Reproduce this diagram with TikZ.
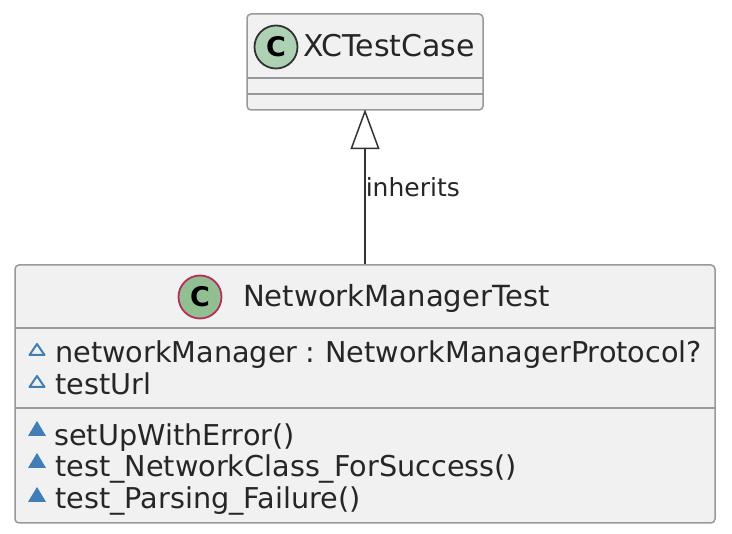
\documentclass[tikz,border=0pt]{standalone}
\usepackage{fontspec}
\setmainfont{DejaVu Sans}
\usetikzlibrary{arrows.meta}
\definecolor{boxfill}{HTML}{F1F1F1}
\definecolor{boxline}{HTML}{999999}
\definecolor{inkline}{HTML}{333333}
\definecolor{spotbase}{HTML}{ADD1B2}
\definecolor{spotchild}{HTML}{92BF92}
\definecolor{spotedge}{HTML}{B4305A}
\definecolor{markblue}{HTML}{3F7FB5}
\begin{document}
\begin{tikzpicture}[
    x=1pt, y=-1pt,
    classbox/.style={rectangle, draw=boxline, fill=boxfill, line width=1.5pt, rounded corners=4pt, inner sep=0pt},
    spot/.style={circle, draw=inkline, fill=spotbase, line width=1.8pt, minimum size=43pt, inner sep=0pt, font=\fontsize{27}{27}\selectfont\bfseries},
    title/.style={anchor=base west, inner sep=0pt, text=black!85, font=\fontsize{29.1}{30}\selectfont},
    member/.style={anchor=base west, inner sep=0pt, text=black!85, font=\fontsize{28.7}{30}\selectfont},
    edgelabel/.style={anchor=base west, inner sep=0pt, text=black!85, font=\fontsize{25}{28}\selectfont},
    inherit/.style={draw=inkline, line width=1.5pt, shorten >=-1.5pt, -{Triangle[open, length=40pt, width=29pt, line width=1.5pt]}}
  ]
    \useasboundingbox (0,0) rectangle (732,534);
    \node[classbox, minimum width=236pt, minimum height=96pt] (base) at (365,62) {};
    \node[classbox, minimum width=700pt, minimum height=258pt] (child) at (365,394) {};
    \foreach \y in {78,94} {
      \draw[boxline, line width=1.5pt] (247,\y) -- (483,\y);
    }
    \foreach \y in {328,408} {
      \draw[boxline, line width=1.5pt] (15,\y) -- (715,\y);
    }
    \node[spot] (basespot) at (276,47) {C};
    \node[spot, draw=spotedge, fill=spotchild] (childspot) at (200,297) {C};
    \node[title, font=\fontsize{30}{30}\selectfont] (basename) at (303,57) {XCTestCase};
    \node[title] (childname) at (243,307) {NetworkManagerTest};
    \draw[inherit] (child.north) -- node[edgelabel, pos=0.46, xshift=0pt, yshift=-3pt] (lbl) {inherits} (base.south);
    \node[member] (fieldone) at (55,363) {networkManager\kern-1.5pt{} : \kern-1.5pt{}NetworkManagerProtocol?};
    \node[member] (fieldtwo) at (55,395) {testUrl};
    \node[member] (methodone) at (54,446) {setUpWithError()};
    \node[member] (methodtwo) at (55,477) {test\_NetworkClass\_ForSuccess()};
    \node[member] (methodthree) at (55,509) {test\_Parsing\_Failure()};
    \foreach \y in {356,388} {
      \draw[markblue, line width=2pt, line join=round] (29.5,\y-1) -- (37,\y-12) -- (44.5,\y-1) -- cycle;
    }
    \foreach \y in {436,468,502} {
      \fill[markblue] (28,\y) -- (37,\y-15) -- (46,\y) -- cycle;
    }
  \end{tikzpicture}
\end{document}
